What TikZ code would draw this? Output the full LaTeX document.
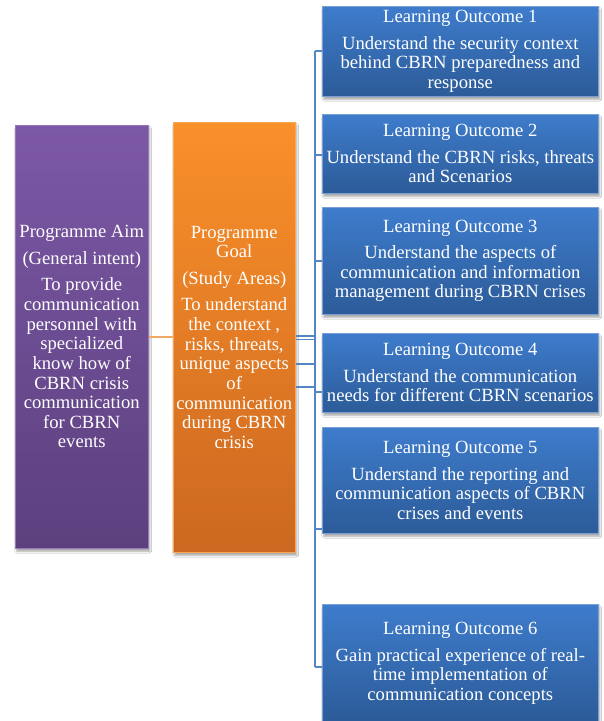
\documentclass[tikz,border=0pt]{standalone}
\usepackage{fontspec}
\setmainfont{Liberation Serif}
\usetikzlibrary{shadows.blur}
\definecolor{purpleTop}{RGB}{124,88,166}
\definecolor{purpleBot}{RGB}{92,64,126}
\definecolor{orangeTop}{RGB}{250,144,42}
\definecolor{orangeBot}{RGB}{204,104,32}
\definecolor{blueTop}{RGB}{62,124,204}
\definecolor{blueBot}{RGB}{44,91,152}
\definecolor{blueEdge}{RGB}{120,160,215}
\definecolor{blueLine}{RGB}{84,134,196}
\definecolor{orangeLine}{RGB}{244,166,100}
\begin{document}
\begin{tikzpicture}[x=1bp,y=-1bp,
  box/.style={rectangle, inner sep=0pt, anchor=north west, align=center,
    text=white, font=\fontsize{18.7}{19.7}\selectfont,
    blur shadow={shadow xshift=1.5bp, shadow yshift=-3bp, shadow blur steps=6, shadow opacity=35}},
  aimbox/.style={box, top color=purpleTop, bottom color=purpleBot, draw=purpleTop!80!white, line width=0.5bp},
  goalbox/.style={box, top color=orangeTop, bottom color=orangeBot, draw=orangeTop!80!white, line width=0.5bp},
  lobox/.style={box, top color=blueTop, bottom color=blueBot, draw=blueEdge, line width=0.6bp, minimum width=276bp},
  bline/.style={draw=blueLine, line width=1.3bp},
  oline/.style={draw=orangeLine, line width=1.5bp}]
\useasboundingbox (0,0) rectangle (604,721);
\fill[white] (0,0) rectangle (604,721);
\clip (0,0) rectangle (604,721);

\node[aimbox, minimum width=133bp, minimum height=423bp] (aim) at (15,125)
  {Programme Aim\\[7pt](General intent)\\[7pt]To provide\\communication\\personnel with\\specialized\\know how of\\CBRN crisis\\communication\\for CBRN\\events};
\node[goalbox, minimum width=122bp, minimum height=430bp] (goal) at (173,122)
  {Programme\\Goal\\[7pt](Study Areas)\\[7pt]To understand\\the context ,\\risks, threats,\\unique aspects\\of\\communication\\during CBRN\\crisis};

\node[lobox, minimum height=90bp] (lo1) at (322,6)
  {Learning Outcome 1\\[7pt]Understand the security context\\behind CBRN preparedness and\\response};
\node[lobox, minimum height=79bp] (lo2) at (322,114)
  {Learning Outcome 2\\[7pt]Understand the CBRN risks, threats\\and Scenarios};
\node[lobox, minimum height=107bp] (lo3) at (322,207)
  {Learning Outcome 3\\[7pt]Understand the aspects of\\communication and information\\management during CBRN crises};
\node[lobox, minimum height=79bp] (lo4) at (322,333)
  {Learning Outcome 4\\[7pt]Understand the communication\\needs for different CBRN scenarios};
\node[lobox, minimum height=106bp] (lo5) at (322,427)
  {Learning Outcome 5\\[7pt]Understand the reporting and\\communication aspects of CBRN\\crises and events};
\node[lobox, minimum height=118bp] (lo6) at (322,604)
  {Learning Outcome 6\\[7pt]Gain practical experience of real-\\time implementation of\\communication concepts};

% aim -> goal
\coordinate (m) at (160,337);
\draw[oline] (m -| aim.east) -- (m -| goal.west);

% spine
\coordinate (b1) at (315,51);
\coordinate (b2) at (315,155);
\coordinate (b3) at (315,261);
\coordinate (b4) at (315,392);
\coordinate (b5) at (315,529);
\coordinate (b6) at (315,667);
\draw[bline] (b1) -- (b6);
\draw[bline] (b1) -- (b1 -| lo1.west);
\draw[bline] (b2) -- (b2 -| lo2.west);
\draw[bline] (b3) -- (b3 -| lo3.west);
\draw[bline] (b4) -- (b4 -| lo4.west);
\draw[bline] (b5) -- (b5 -| lo5.west);
\draw[bline] (b6) -- (b6 -| lo6.west);

% goal -> spine
\coordinate (g1) at (315,336);
\coordinate (g2) at (315,339.5);
\coordinate (g3) at (315,364);
\coordinate (g4) at (315,387);
\draw[bline] (g1 -| goal.east) -- (g1);
\draw[bline] (g2 -| goal.east) -- (g2);
\draw[bline] (g3 -| goal.east) -- (g3);
\draw[bline] (g4 -| goal.east) -- (g4);
\end{tikzpicture}
\end{document}
